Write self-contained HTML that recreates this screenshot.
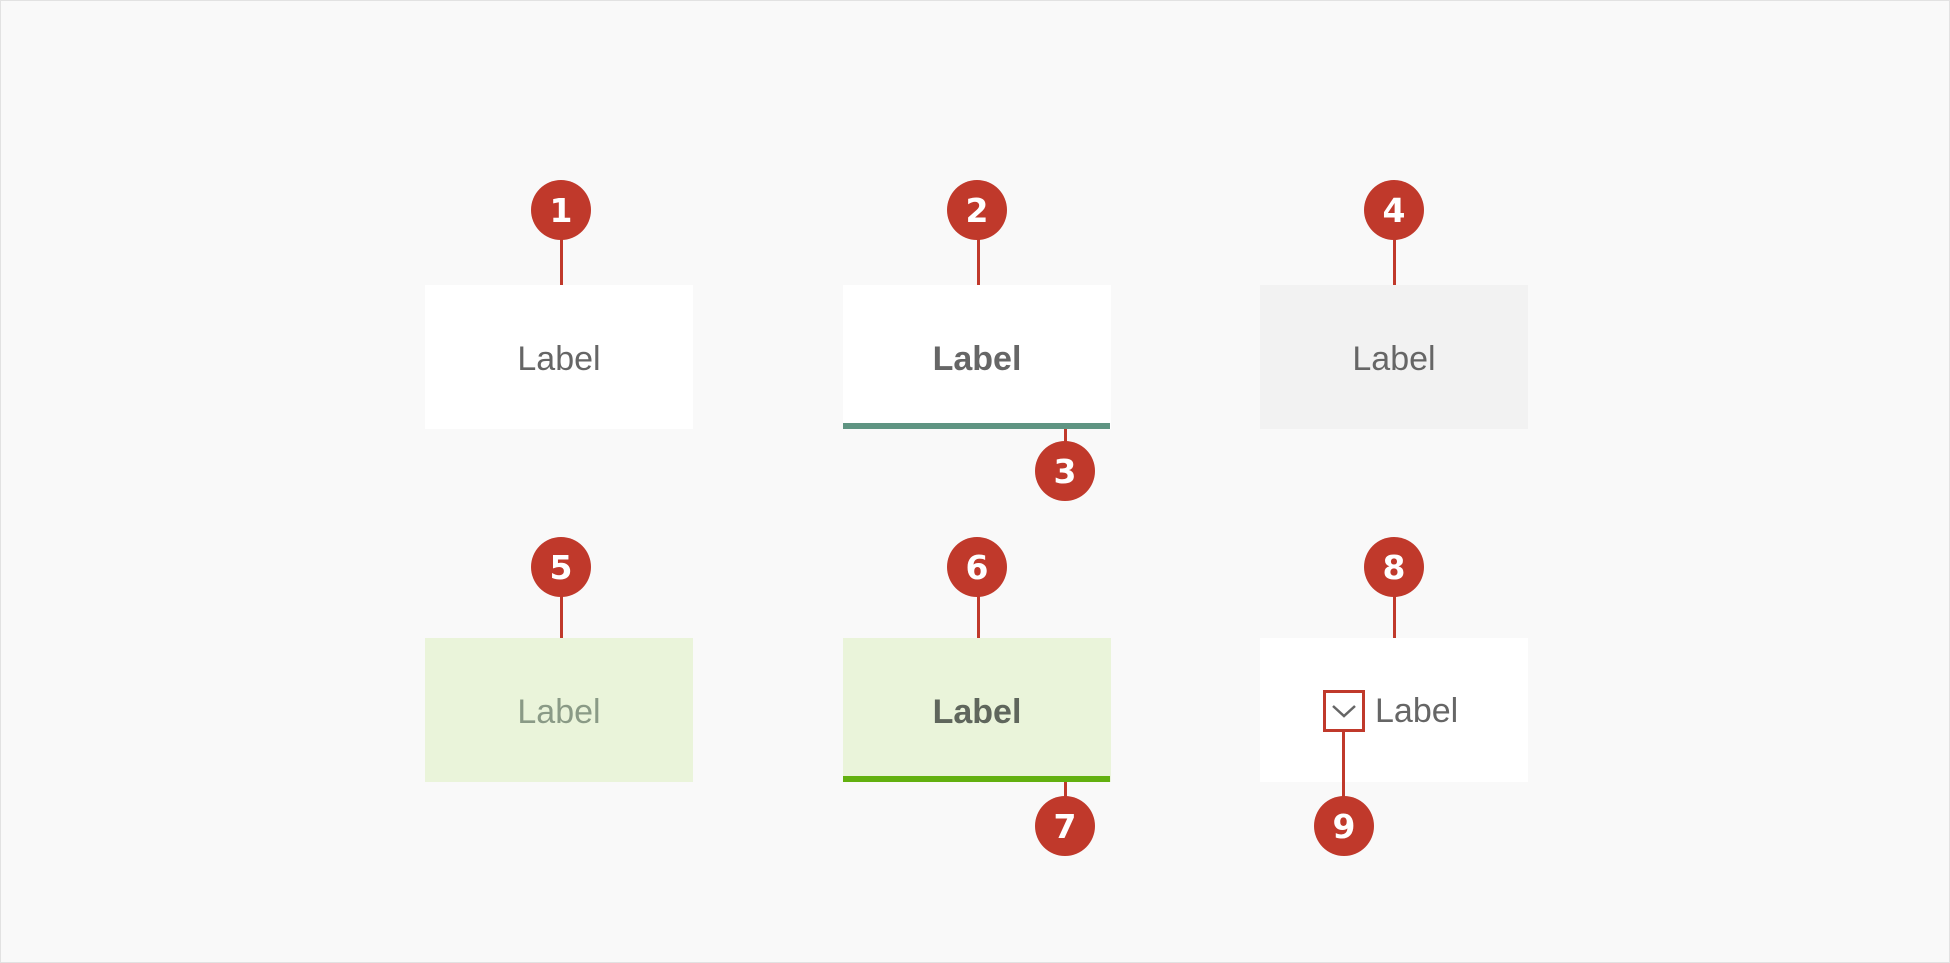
<!DOCTYPE html>
<html><head><style>
body{margin:0;width:1950px;height:963px;background:#f9f9f9;position:relative;overflow:hidden;font-family:"Liberation Sans",Arial,sans-serif}
.frame{position:absolute;left:0;top:0;width:1948px;height:961px;border:1px solid #e2e2e2}
.box{position:absolute;width:268px;height:144px;display:flex;align-items:center;justify-content:center;font-size:34px;color:#666;padding-top:4px;box-sizing:border-box}
.c{position:absolute;width:60px;height:60px;border-radius:50%;background:#c0392b;color:#fff;font-weight:bold;font-size:33px;display:flex;align-items:center;justify-content:center;font-family:"DejaVu Sans","Liberation Sans",sans-serif}
.l{position:absolute;width:3px;background:#c0392b}
</style></head><body>
<div class="frame"></div>
<!-- row 1 -->
<div class="l" style="left:560px;top:238px;height:48px"></div>
<div class="box" style="left:425px;top:285px;background:#fff">Label</div>
<div class="c" style="left:531px;top:180px">1</div>

<div class="l" style="left:977px;top:238px;height:48px"></div>
<div class="box" style="left:843px;top:285px;background:#fff;font-weight:bold">Label</div>
<div style="position:absolute;left:843px;top:423px;width:267px;height:6px;background:#5f9482"></div>
<div class="c" style="left:947px;top:180px">2</div>
<div class="l" style="left:1064px;top:429px;height:20px"></div>
<div class="c" style="left:1035px;top:441px">3</div>

<div class="l" style="left:1393px;top:238px;height:48px"></div>
<div class="box" style="left:1260px;top:285px;background:#f2f2f2">Label</div>
<div class="c" style="left:1364px;top:180px">4</div>
<!-- row 2 -->
<div class="l" style="left:560px;top:595px;height:44px"></div>
<div class="box" style="left:425px;top:638px;background:#eaf4da;color:#8a9a86">Label</div>
<div class="c" style="left:531px;top:537px">5</div>

<div class="l" style="left:977px;top:595px;height:44px"></div>
<div class="box" style="left:843px;top:638px;background:#eaf4da;font-weight:bold;color:#5f665c">Label</div>
<div style="position:absolute;left:843px;top:776px;width:267px;height:6px;background:#62b00f"></div>
<div class="c" style="left:947px;top:537px">6</div>
<div class="l" style="left:1064px;top:782px;height:20px"></div>
<div class="c" style="left:1035px;top:796px">7</div>

<div class="l" style="left:1393px;top:595px;height:44px"></div>
<div class="box" style="left:1260px;top:638px;background:#fff"></div>
<div style="position:absolute;left:1375px;top:692px;font-size:34px;color:#666">Label</div>
<div style="position:absolute;left:1323px;top:690px;width:36px;height:36px;border:3px solid #c0392b"></div>
<svg style="position:absolute;left:1323px;top:690px" width="42" height="42"><polyline points="10,16 21,26 32,16" fill="none" stroke="#666" stroke-width="2.5"/></svg>
<div class="l" style="left:1342px;top:732px;height:70px"></div>
<div class="c" style="left:1314px;top:796px">9</div>
<div class="c" style="left:1364px;top:537px">8</div>
</body></html>
